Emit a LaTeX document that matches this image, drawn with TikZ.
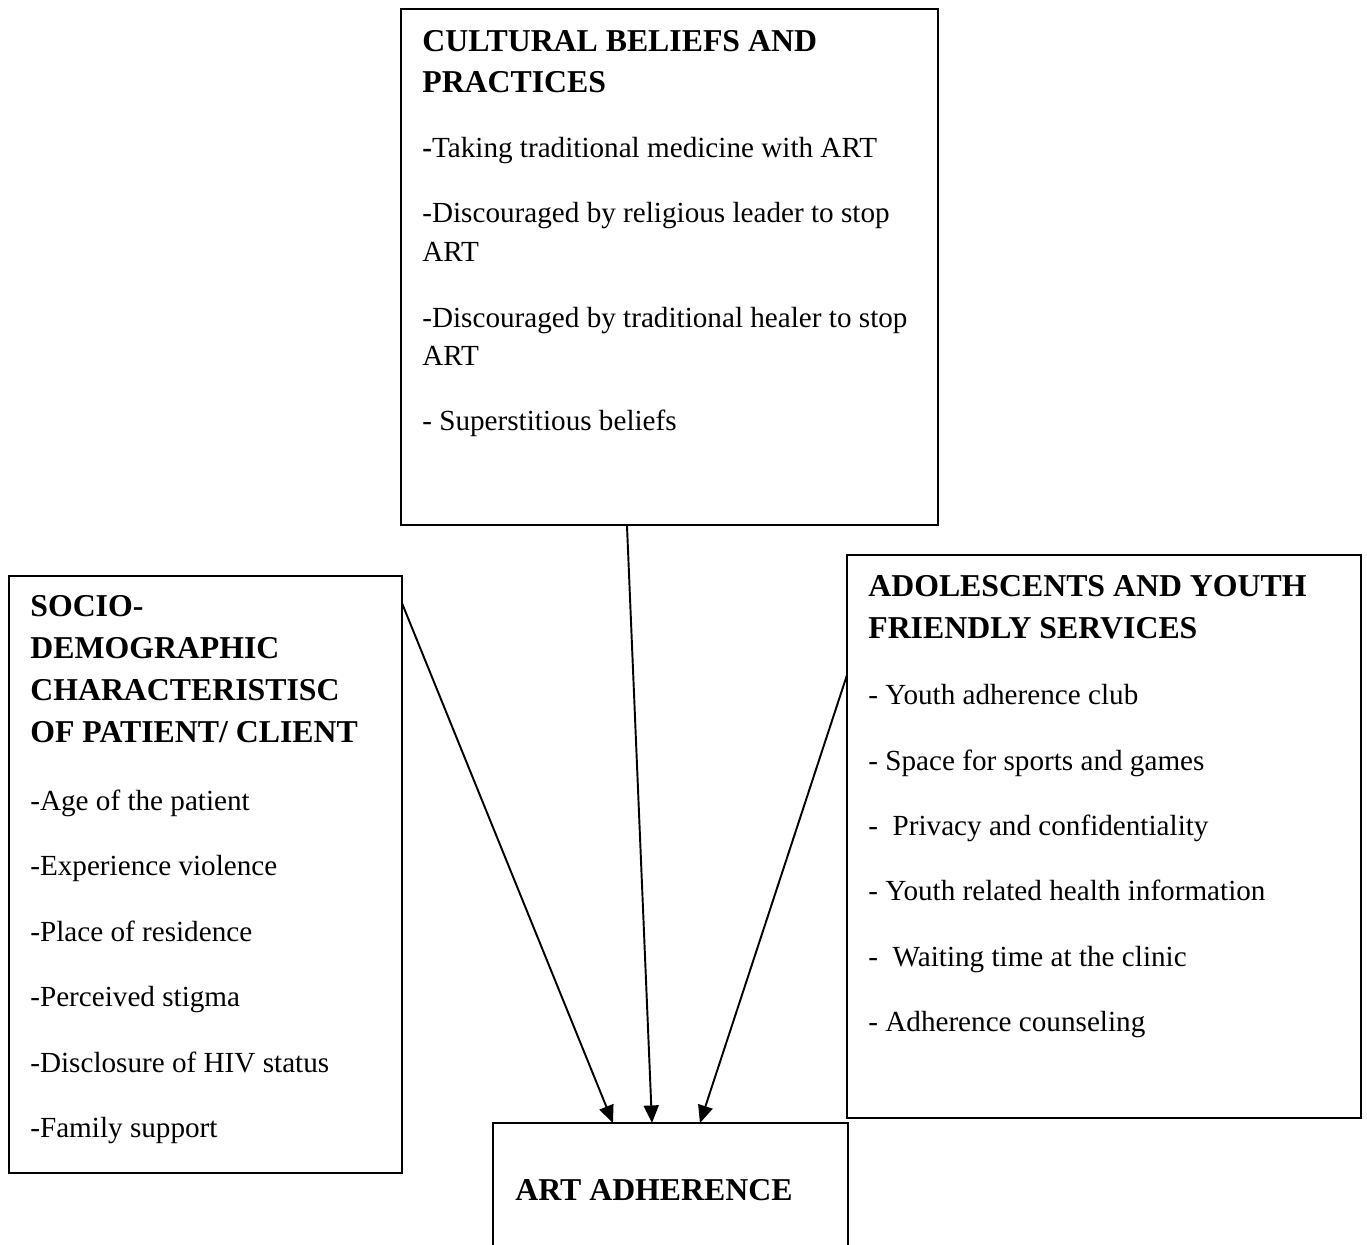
\documentclass[tikz,border=0pt]{standalone}
\usepackage{fontspec}
\setmainfont{Liberation Serif}
\usetikzlibrary{%
	arrows.meta,%
	calc
}
\newcommand{\hd}{\fontsize{18.1}{20}\selectfont\bfseries}
\newcommand{\bd}{\fontsize{16.6}{19}\selectfont}

\begin{document}
\begin{tikzpicture}[x=0.02cm,y=-0.02cm,
	box/.style={draw,line width=1pt,anchor=north west,inner sep=0pt,outer sep=0pt},
	ln/.style={anchor=base west,inner sep=0pt,font=\bd},
	hl/.style={ln,font=\hd},
	link/.style={line width=1.1pt,-{Triangle[length=10pt,width=8.5pt]}}]
	\clip (0,0) rectangle (1367,1245);
	\node[box,minimum width=10.74cm,minimum height=10.32cm] (cult) at (401,9) {};
	\node[box,minimum width=7.86cm,minimum height=11.94cm] (socio) at (9,576) {};
	\node[box,minimum width=10.28cm,minimum height=11.26cm] (adol) at (847,555) {};
	\node[box,minimum width=7.1cm,minimum height=3.54cm] (art) at (493,1123) {};
	\foreach \Y/\T [count=\i] in {51/CULTURAL BELIEFS AND,92/PRACTICES}
		\node[hl] (cult-h\i) at (422,\Y) {\T};
	\foreach \Y/\T [count=\i] in {157/{\textbf{-}Taking traditional medicine with ART},
		222/-Discouraged by religious leader to stop,261/ART,
		327/-Discouraged by traditional healer to stop,365/ART,
		430/- Superstitious beliefs}
		\node[ln] (cult-\i) at (422,\Y) {\T};
	\foreach \Y/\T [count=\i] in {616/SOCIO-,658/DEMOGRAPHIC,700/CHARACTERISTISC,742/{OF PATIENT/ CLIENT}}
		\node[hl] (socio-h\i) at (30,\Y) {\T};
	\foreach \Y/\T [count=\i] in {810/-Age of the patient,875/-Experience violence,
		941/-Place of residence,1006/-Perceived stigma,
		1072/-Disclosure of HIV status,1137/-Family support}
		\node[ln] (socio-\i) at (30,\Y) {\T};
	\foreach \Y/\T [count=\i] in {596/ADOLESCENTS AND YOUTH,638/FRIENDLY SERVICES}
		\node[hl] (adol-h\i) at (868,\Y) {\T};
	\foreach \Y/\T [count=\i] in {704/- Youth adherence club,770/- Space for sports and games,
		835/-\ \ Privacy and confidentiality,900/- Youth related health information,
		966/-\ \ Waiting time at the clinic,1031/- Adherence counseling}
		\node[ln] (adol-\i) at (868,\Y) {\T};
	\node[hl] (art-h) at (515,1200) {ART ADHERENCE};
	\draw[link] ([xshift=4.52cm]cult.south west) -- ([xshift=3.18cm]art.north west);
	\draw[link] ([yshift=-0.54cm]socio.north east) -- ([xshift=2.4cm]art.north west);
	\draw[link] ([yshift=-2.4cm]adol.north west) -- ([xshift=4.14cm]art.north west);
\end{tikzpicture}
\end{document}
